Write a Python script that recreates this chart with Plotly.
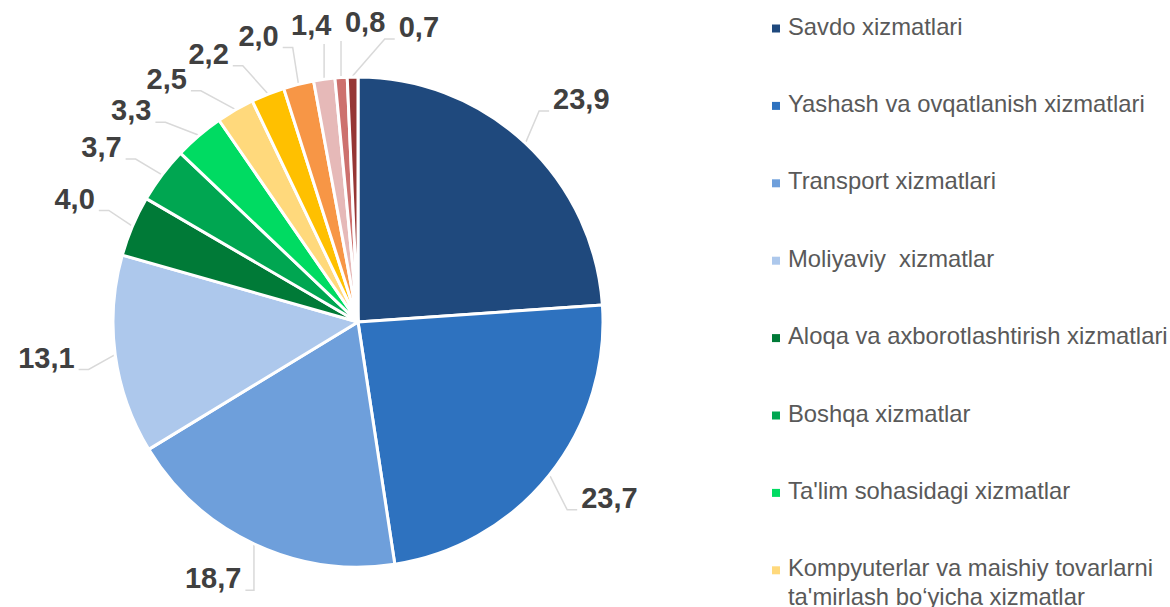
import math
import plotly.graph_objects as go

# ---------------- data ----------------
categories = [
    "Savdo xizmatlari",
    "Yashash va ovqatlanish xizmatlari",
    "Transport xizmatlari",
    "Moliyaviy  xizmatlar",
    "Aloqa va axborotlashtirish xizmatlari",
    "Boshqa xizmatlar",
    "Ta'lim sohasidagi xizmatlar",
    "Kompyuterlar va maishiy tovarlarni\nta'mirlash bo‘yicha xizmatlar",
    "Sog'liqni saqlash sohasidagi xizmatlar",
    "Ko'chmas mulk bilan bog'liq xizmatlar",
    "Arxitektura va muhandislik xizmatlari",
    "Ijara xizmatlari",
    "Shaxsiy xizmatlar",
]
values = [23.9, 23.7, 18.7, 13.1, 4.0, 3.7, 3.3, 2.5, 2.2, 2.0, 1.4, 0.8, 0.7]

# ---------------- style ----------------
colors = [
    "#1F497D", "#2E72BF", "#6E9FDB", "#ADC8EC",
    "#007A37", "#00A651", "#00DB62", "#FFD97C",
    "#FFC000", "#F79646", "#E6B9B8", "#CD716E", "#963634",
]
W, H = 1170, 607
CX, CY, R = 358, 322, 245          # pie centre / radius in pixels
FONT = "Liberation Sans, Arial, sans-serif"
LBL_FS = 29
LBL_H = 22
LBL_GAP = 41
MIN_SEP = 9.5                      # min angular separation of labels (deg)
PUSH_BACK = 0.52                   # share of the separation push applied counter-clockwise
LINE_COL = "#D9D9D9"
LEG_X_SQ, LEG_X_TXT = 776, 786
LEG_Y0, LEG_PITCH, LEG_LINE = 26, 77.4, 28.2
LEG_FS = 23.8

fig = go.Figure()

fig.add_trace(go.Pie(
    values=values, labels=[c.replace("\n", " ") for c in categories],
    sort=False, direction="clockwise", rotation=0,
    marker=dict(colors=colors, line=dict(color="white", width=3)),
    textinfo="none", hoverinfo="label+value", showlegend=False,
    domain=dict(x=[(CX - R) / W, (CX + R) / W],
                y=[(H - CY - R) / H, (H - CY + R) / H]),
))

# ---------------- label geometry derived from data ----------------
total = sum(values)
mids, cum = [], 0.0
for v in values:
    mids.append((cum + v / 2) / total * 360.0)
    cum += v

psi = mids[:]
for _ in range(400):
    for i in range(len(psi) - 1):
        gap = psi[i + 1] - psi[i]
        if gap < MIN_SEP:
            d = MIN_SEP - gap
            psi[i] -= d * PUSH_BACK
            psi[i + 1] += d * (1 - PUSH_BACK)


def unit(deg):
    a = math.radians(deg)
    return math.sin(a), -math.cos(a)


def clamp(v):
    return max(-1.0, min(1.0, v))


lx, ly, ltxt = [], [], []
line_x, line_y = [], []
for v, m, p in zip(values, mids, psi):
    txt = f"{v:.1f}".replace(".", ",")
    w = LBL_FS * sum(0.556 if ch.isdigit() else 0.278 for ch in txt)
    ux, uy = unit(p)
    ax = CX + (R + LBL_GAP) * ux
    ay = CY + (R + LBL_GAP) * uy
    tx = ax + w / 2 * clamp(2 * ux)
    ty = ay + (LBL_H / 2 * clamp(2 * uy) if uy < 0 else 0)
    lx.append(tx); ly.append(ty); ltxt.append(f"<b>{txt}</b>")

    mx, my = unit(m)
    p0x, p0y = CX + (R + 1) * mx, CY + (R + 1) * my
    if p0x > tx + w / 2 + 6:
        ex, ey = tx + w / 2 + 4, ty + 9
        bx = ex + min(10, p0x - ex)
        pts = [(p0x, p0y), (bx, ey), (ex, ey)]
    elif p0x < tx - w / 2 - 6:
        ex, ey = tx - w / 2 - 4, ty + 9
        bx = ex - min(10, ex - p0x)
        pts = [(p0x, p0y), (bx, ey), (ex, ey)]
    else:
        ey = ty + 16 if p0y > ty else ty - 18
        pts = [(p0x, p0y), (p0x, ey)]
    for (x, y) in pts:
        line_x.append(x); line_y.append(y)
    line_x.append(None); line_y.append(None)

fig.add_trace(go.Scatter(
    x=line_x, y=line_y, mode="lines",
    line=dict(color=LINE_COL, width=1.5),
    hoverinfo="skip", showlegend=False,
))
fig.add_trace(go.Scatter(
    x=lx, y=ly, mode="text", text=ltxt, textposition="middle center",
    textfont=dict(family=FONT, size=LBL_FS, color="#404040"),
    hoverinfo="skip", showlegend=False,
))

# ---------------- legend (clipped like the original) ----------------
sq_x, sq_y, sq_c = [], [], []
y = LEG_Y0
for name, col in zip(categories, colors):
    if y > H:
        break
    sq_x.append(LEG_X_SQ); sq_y.append(y + 2.5); sq_c.append(col)
    lines = name.split("\n")
    for k, ln in enumerate(lines):
        fig.add_annotation(
            x=LEG_X_TXT, y=y + k * LEG_LINE, xref="x", yref="y",
            text=ln, showarrow=False, xanchor="left", yanchor="middle",
            font=dict(family=FONT, size=LEG_FS, color="#595959"),
        )
    y += LEG_PITCH + (len(lines) - 1) * LEG_LINE

fig.add_trace(go.Scatter(
    x=sq_x, y=sq_y, mode="markers",
    marker=dict(symbol="square", size=8, color=sq_c, line=dict(width=0)),
    hoverinfo="skip", showlegend=False,
))

fig.update_layout(
    width=W, height=H,
    margin=dict(l=0, r=0, t=0, b=0),
    paper_bgcolor="white", plot_bgcolor="rgba(0,0,0,0)",
    xaxis=dict(range=[0, W], visible=False, fixedrange=True),
    yaxis=dict(range=[H, 0], visible=False, fixedrange=True),
    showlegend=False,
)

fig.write_html(
    "out.html",
    config={"displayModeBar": False},
    post_script="document.body.style.margin='0';document.body.style.overflow='hidden';",
)
